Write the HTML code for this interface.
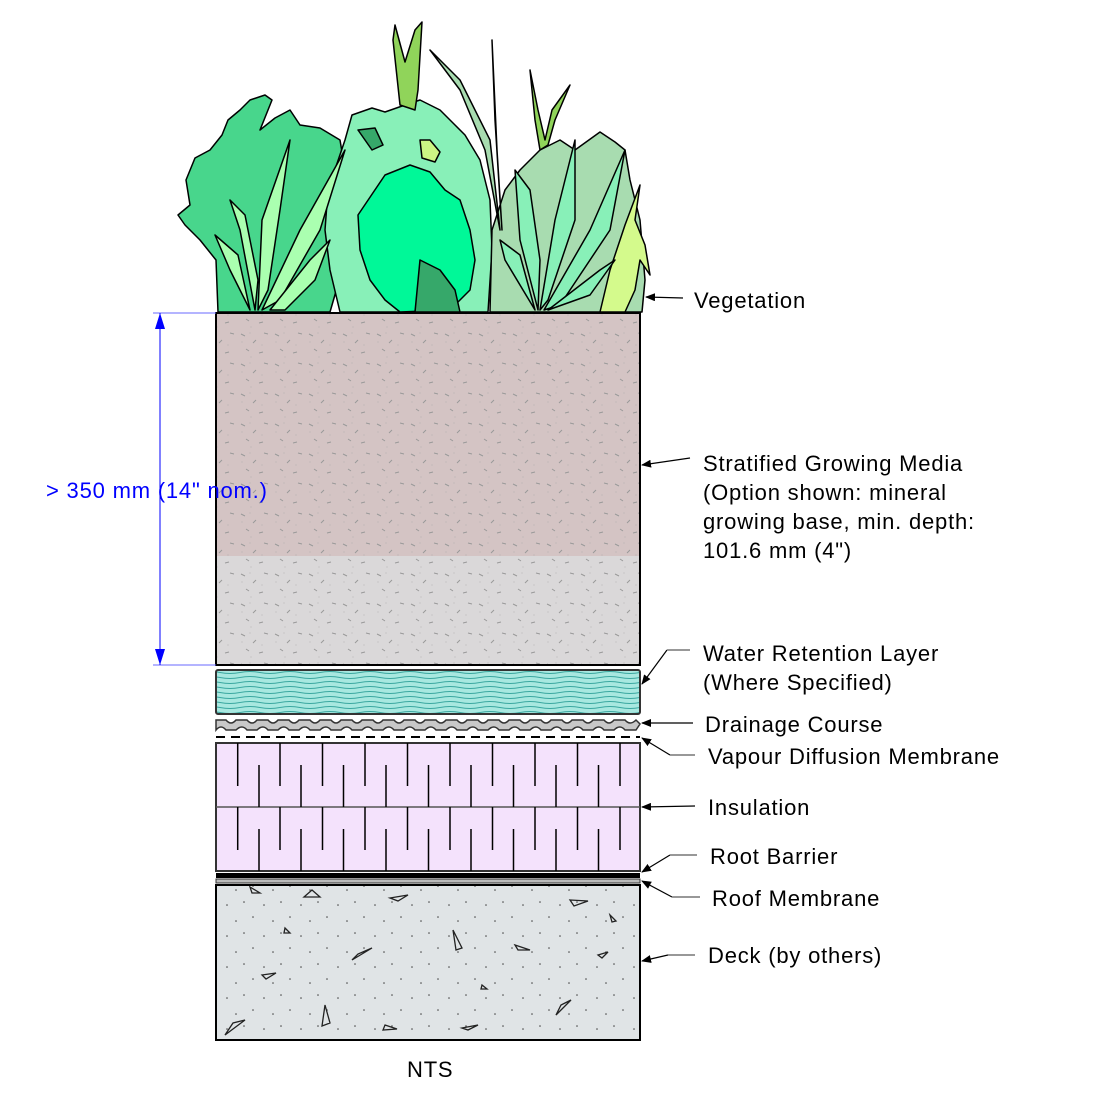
<!DOCTYPE html>
<html><head><meta charset="utf-8"><style>
html,body{margin:0;padding:0;background:#fff}
svg{display:block}
text{font-family:"Liberation Sans",sans-serif;font-size:22px;fill:#000;letter-spacing:0.8px}
</style></head><body>
<svg width="1100" height="1099" viewBox="0 0 1100 1099" xmlns="http://www.w3.org/2000/svg">
<defs>
<pattern id="spk" width="34" height="30" patternUnits="userSpaceOnUse">
<path d="M3 4l4 2M18 10l-3 3M26 3l4 1M8 19l3 2M21 23l4-1" stroke="#999" stroke-width="1"/>
<circle cx="12" cy="3" r=".5" fill="#aaa"/><circle cx="4" cy="12" r=".5" fill="#aaa"/><circle cx="24" cy="15" r=".5" fill="#aaa"/><circle cx="13" cy="27" r=".5" fill="#aaa"/>
</pattern>
<pattern id="wav" width="40" height="5" patternUnits="userSpaceOnUse">
<path d="M0 2.5q10-2 20 0t20 0" stroke="#3aa7a0" stroke-width="1" fill="none"/>
</pattern>
<pattern id="dots" width="37" height="31" patternUnits="userSpaceOnUse">
<circle cx="5" cy="6" r=".8" fill="#444"/><circle cx="22" cy="3" r=".8" fill="#444"/><circle cx="31" cy="18" r=".8" fill="#444"/><circle cx="14" cy="22" r=".8" fill="#444"/>
</pattern>
<marker id="ar" markerWidth="10" markerHeight="8" refX="9" refY="4" orient="auto" markerUnits="userSpaceOnUse"><path d="M0 0L10 4L0 8z" fill="#000"/></marker>
</defs>

<!-- plants -->
<g stroke="#000" stroke-width="1.5" stroke-linejoin="round">
<path d="M218 312 L216 260 L200 240 L185 225 L178 215 L190 205 L186 180 L195 158 L210 150 L222 135 L228 120 L240 110 L250 100 L265 95 L272 100 L260 130 L275 118 L290 110 L300 125 L320 128 L340 140 L345 170 L350 200 L345 260 L330 312Z" fill="#48d68c"/>
<path d="M345 140 L352 115 L372 108 L385 112 L405 105 L420 100 L440 110 L455 125 L465 135 L480 160 L490 200 L492 250 L488 312 L340 312 L330 270 L325 230 L328 190 Z" fill="#88f0b8"/>
<path d="M385 175 L410 165 L430 172 L445 190 L460 200 L470 230 L475 260 L470 290 L450 310 L400 312 L385 300 L370 280 L360 250 L358 215 Z" fill="#00f898"/>
<path d="M420 260 L440 270 L455 290 L460 312 L415 312 Z" fill="#36a86a"/>
<path d="M490 312 L492 230 L505 190 L520 170 L540 150 L560 140 L575 150 L600 132 L615 142 L625 150 L630 180 L640 220 L645 280 L642 312 Z" fill="#a8dcb0"/>
<path d="M600 312 L610 270 L625 225 L640 185 L635 220 L645 245 L650 275 L640 260 L635 290 L625 312 Z" fill="#d4fa8c"/>
<path d="M420 140 L430 140 L440 152 L435 162 L422 158 Z" fill="#ccf584"/>
<path d="M358 130 L375 128 L383 145 L372 150 Z" fill="#36a86a"/>
<path d="M400 105 L393 40 L395 25 L405 62 L415 30 L422 22 L418 90 L415 110 Z" fill="#90d45a"/>
<path d="M492 40 L497 150 L502 230 L500 200 L495 120 Z" fill="#a8dcb0"/>
<path d="M430 50 L460 80 L490 140 L500 230 L485 150 L460 90 Z" fill="#a8dcb0"/>
<path d="M530 70 L538 110 L545 140 L552 110 L570 85 L555 120 L548 145 L540 150 L535 120 Z" fill="#90d45a"/>
<path d="M255 310 L240 230 L230 200 L245 215 L258 280 Z" fill="#aaffb0"/>
<path d="M258 310 L262 220 L290 140 L280 210 L268 290 Z" fill="#aaffb0"/>
<path d="M262 310 L300 230 L345 150 L320 230 L280 300 Z" fill="#aaffb0"/>
<path d="M250 310 L230 270 L215 235 L238 255 Z" fill="#aaffb0"/>
<path d="M270 310 L310 260 L330 240 L315 280 L285 310 Z" fill="#aaffb0"/>
<path d="M538 310 L520 240 L515 170 L530 190 L540 260 Z" fill="#88f0b8"/>
<path d="M540 310 L555 220 L575 140 L575 220 L548 300 Z" fill="#88f0b8"/>
<path d="M544 310 L590 230 L625 150 L610 230 L560 305 Z" fill="#88f0b8"/>
<path d="M535 310 L505 260 L500 240 L520 255 Z" fill="#88f0b8"/>
<path d="M548 310 L600 270 L615 260 L590 295 Z" fill="#88f0b8"/>
</g>

<!-- growing media -->
<rect x="216" y="313" width="424" height="243" fill="#d4c4c4"/>
<rect x="216" y="556" width="424" height="109" fill="#dad8d9"/>
<rect x="216" y="313" width="424" height="352" fill="url(#spk)"/>
<rect x="216" y="313" width="424" height="352" fill="none" stroke="#000" stroke-width="2"/>

<!-- water retention -->
<rect x="216" y="670" width="424" height="44" fill="#a8e8e0"/>
<rect x="216" y="670" width="424" height="44" fill="url(#wav)"/>
<rect x="216" y="670" width="424" height="44" fill="none" stroke="#333" stroke-width="2" rx="2"/>

<!-- drainage -->
<path d="M216 720 L226 720 Q231 726 236 720 L247 720 Q252 726 257 720 L268 720 Q273 726 278 720 L289 720 Q294 726 299 720 L310 720 Q315 726 320 720 L331 720 Q336 726 341 720 L352 720 Q357 726 362 720 L373 720 Q378 726 383 720 L394 720 Q399 726 404 720 L415 720 Q420 726 425 720 L436 720 Q441 726 446 720 L457 720 Q462 726 467 720 L478 720 Q483 726 488 720 L499 720 Q504 726 509 720 L520 720 Q525 726 530 720 L541 720 Q546 726 551 720 L562 720 Q567 726 572 720 L583 720 Q588 726 593 720 L604 720 Q609 726 614 720 L625 720 Q630 726 636 720 L640 724 L636 730 L625 730 Q620 724 614 730 L604 730 Q599 724 593 730 L583 730 Q578 724 572 730 L562 730 Q557 724 551 730 L541 730 Q536 724 530 730 L520 730 Q515 724 509 730 L499 730 Q494 724 488 730 L478 730 Q473 724 467 730 L457 730 Q452 724 446 730 L436 730 Q431 724 425 730 L415 730 Q410 724 404 730 L394 730 Q389 724 383 730 L373 730 Q368 724 362 730 L352 730 Q347 724 341 730 L331 730 Q326 724 320 730 L310 730 Q305 724 299 730 L289 730 Q284 724 278 730 L268 730 Q263 724 257 730 L247 730 Q242 724 236 730 L226 730 Q221 724 216 730 Z" fill="#c8c8c8" stroke="#333" stroke-width="1.5"/>
<line x1="216" y1="737" x2="640" y2="737" stroke="#000" stroke-width="2" stroke-dasharray="9,6"/>

<!-- insulation -->
<rect x="216" y="743" width="424" height="128" fill="#f4e2fc" stroke="#333" stroke-width="2"/>
<line x1="216" y1="807" x2="640" y2="807" stroke="#555" stroke-width="1.5"/>
<g stroke="#000" stroke-width="1.5">
<path d="M237.7 743v43M280 743v43M322.5 743v43M365 743v43M407.5 743v43M450 743v43M492.5 743v43M535 743v43M577.5 743v43M620 743v43
M259 765v42M301 765v42M343.5 765v42M386 765v42M428.5 765v42M471 765v42M513.5 765v42M556 765v42M598.5 765v42
M237.7 807v43M280 807v43M322.5 807v43M365 807v43M407.5 807v43M450 807v43M492.5 807v43M535 807v43M577.5 807v43M620 807v43
M259 829v42M301 829v42M343.5 829v42M386 829v42M428.5 829v42M471 829v42M513.5 829v42M556 829v42M598.5 829v42"/>
</g>
<rect x="216" y="873" width="424" height="5" fill="#000"/>
<rect x="216" y="879" width="424" height="4" fill="#bbb" stroke="#333" stroke-width="1"/>

<!-- deck -->
<rect x="216" y="885" width="424" height="155" fill="#e0e4e6"/>
<rect x="216" y="885" width="424" height="155" fill="url(#dots)"/>
<g fill="none" stroke="#222" stroke-width="1.3">
<path d="M250 887l10 6h-8z M312 890l-8 7h16z M390 898l18-3-10 6z M285 928l5 5h-6z M352 960l20-12-14 6z M453 930l3 20 6-2z M515 945l15 5h-12z M570 900l18 1-14 5z M262 975l14-2-10 6z M598 955l10-3-6 6z M225 1035l20-15-12 3z M325 1005l5 18-8 3z M385 1025l12 4-14 1z M462 1028l16-3-10 5z M556 1015l15-15-10 5z M610 915l6 6-4 1z M482 985l5 4h-6z"/>
</g>
<rect x="216" y="885" width="424" height="155" fill="none" stroke="#000" stroke-width="2"/>

<!-- dimension -->
<g stroke="#0000ff" stroke-width="1" fill="#0000ff">
<line x1="153" y1="313" x2="216" y2="313" stroke="#6a6aff"/>
<line x1="153" y1="665" x2="216" y2="665" stroke="#6a6aff"/>
<line x1="160" y1="313" x2="160" y2="665"/>
<path d="M160 313l-5 16h10z M160 665l-5-16h10z" stroke="none"/>
</g>
<text x="46" y="498" style="fill:#0000ff">&gt; 350 mm (14" nom.)</text>

<!-- leaders -->
<g stroke="#000" stroke-width="1.2" fill="none">
<line x1="683" y1="298" x2="646" y2="297" marker-end="url(#ar)"/>
<line x1="690" y1="458" x2="642" y2="465" marker-end="url(#ar)"/>
<line x1="667" y1="650" x2="642" y2="684" marker-end="url(#ar)"/>
<line x1="693" y1="723" x2="642" y2="723" marker-end="url(#ar)"/>
<line x1="670" y1="755" x2="642" y2="738" marker-end="url(#ar)"/>
<line x1="695" y1="806" x2="642" y2="807" marker-end="url(#ar)"/>
<line x1="670" y1="855" x2="642" y2="872" marker-end="url(#ar)"/>
<line x1="672" y1="897" x2="642" y2="881" marker-end="url(#ar)"/>
<line x1="668" y1="955" x2="642" y2="961" marker-end="url(#ar)"/>
</g>
<g stroke="#777" stroke-width="1.5">
<line x1="667" y1="650" x2="690" y2="650"/>
<line x1="670" y1="755" x2="695" y2="755"/>
<line x1="670" y1="855" x2="697" y2="855"/>
<line x1="672" y1="897" x2="700" y2="897"/>
<line x1="668" y1="955" x2="695" y2="955"/>
</g>

<text x="694" y="308">Vegetation</text>
<text x="703" y="471">Stratified Growing Media</text>
<text x="703" y="500">(Option shown: mineral</text>
<text x="703" y="529">growing base, min. depth:</text>
<text x="703" y="558">101.6 mm (4")</text>
<text x="703" y="661">Water Retention Layer</text>
<text x="703" y="690">(Where Specified)</text>
<text x="705" y="732">Drainage Course</text>
<text x="708" y="764">Vapour Diffusion Membrane</text>
<text x="708" y="815">Insulation</text>
<text x="710" y="864">Root Barrier</text>
<text x="712" y="906">Roof Membrane</text>
<text x="708" y="963">Deck (by others)</text>
<text x="407" y="1077">NTS</text>
</svg>
</body></html>
